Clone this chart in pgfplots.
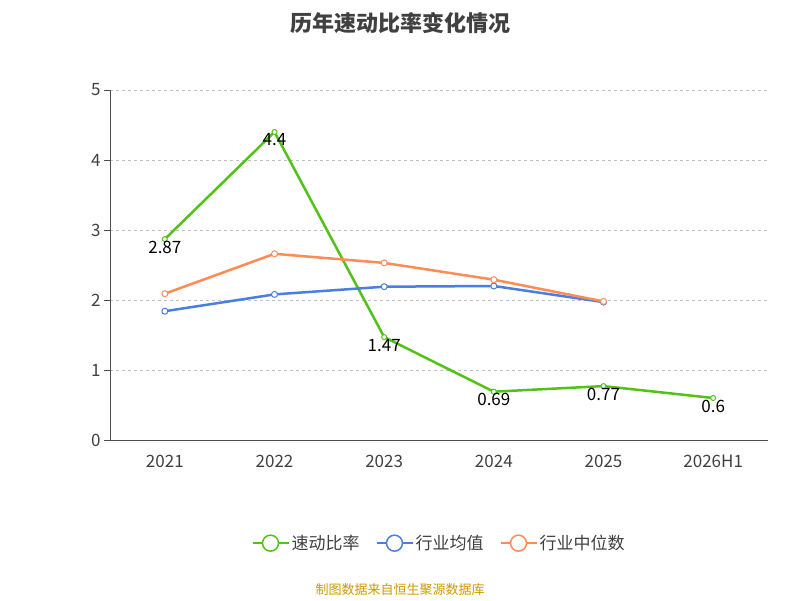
\documentclass[border=0pt]{standalone}
\usepackage{pgfplots}
\pgfplotsset{compat=1.18}
\usepackage{fontspec}
\setmainfont{Noto Sans CJK SC}
\begin{document}
\begin{tikzpicture}[x=1pt,y=1pt]
\path (0,0) rectangle (800,600);
\node[font=\fontsize{22}{26}\selectfont\bfseries,text=black!75] at (400,577) {历年速动比率变化情况};
\node[font=\fontsize{13}{16}\selectfont,text={rgb,255:red,204;green,153;blue,0}] at (400,10) {制图数据来自恒生聚源数据库};
\begin{axis}[at={(110pt,160pt)},anchor=south west,scale only axis,width=658pt,height=350pt,
 xmin=-0.5,xmax=5.5,ymin=0,ymax=5,
 xtick={0,...,5},xticklabels={2021,2022,2023,2024,2025,2026H1},
 extra x ticks={-0.5,0.5,1.5,2.5,3.5,4.5,5.5},extra x tick labels={},
 extra x tick style={major tick length=7pt,tick style={black!70},grid=none},
 ytick={0,...,5},
 axis x line*=bottom, axis y line*=left,
 x axis line style={black!70,-},y axis line style={black!70,-},
 major x tick style={draw=none},
 y tick style={black!70},tick align=outside,major tick length=6pt,
 ymajorgrids,grid style={dashed,black!25,line width=0.8pt},
 tick label style={font=\fontsize{17}{20}\selectfont,text=black!75},
 /pgf/number format/assume math mode=true,
 xticklabel style={yshift=-6pt},
 legend style={at={(0.5,-0.26)},anchor=north,draw=none,legend columns=3,font=\fontsize{17}{20}\selectfont,text=black!75,/tikz/every even column/.append style={column sep=14pt}},
 legend image code/.code={\draw[#1,line width=2pt] (0pt,0pt)--(36pt,0pt);\draw[#1,line width=1.5pt,fill=white] (18pt,0pt) circle (8pt);},
]
\addplot[color={rgb,255:red,82;green,194;blue,26},line width=2.5pt,mark=*,mark size=2.5pt,mark options={fill=white,line width=1pt},
 nodes near coords,point meta=explicit symbolic,every node near coord/.append style={anchor=center,yshift=-8pt,font=\fontsize{17}{20}\selectfont,text=black}]
 coordinates {(0,2.87)[2.87] (1,4.4)[4.4] (2,1.47)[1.47] (3,0.69)[0.69] (4,0.77)[0.77] (5,0.6)[0.6]};
\addlegendentry{速动比率}
\addplot[color={rgb,255:red,74;green,126;blue,224},line width=2.5pt,mark=*,mark size=3pt,mark options={fill=white,line width=1pt}]
 coordinates {(0,1.84) (1,2.08) (2,2.19) (3,2.20) (4,1.97)};
\addlegendentry{行业均值}
\addplot[color={rgb,255:red,255;green,140;blue,85},line width=2.5pt,mark=*,mark size=3pt,mark options={fill=white,line width=1pt}]
 coordinates {(0,2.09) (1,2.66) (2,2.53) (3,2.29) (4,1.98)};
\addlegendentry{行业中位数}
\end{axis}
\end{tikzpicture}
\end{document}
